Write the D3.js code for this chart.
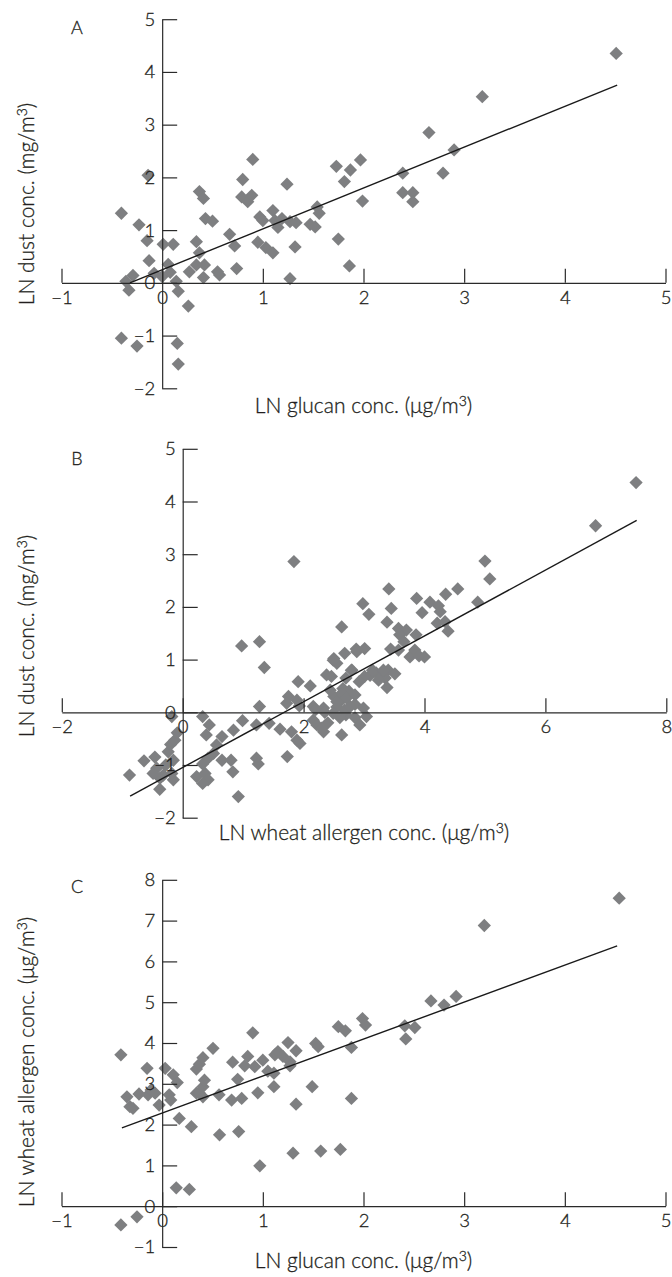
<!DOCTYPE html>
<html>
<head>
<meta charset="utf-8">
<script src="https://cdn.jsdelivr.net/npm/d3@7"></script>
<style>
  body { margin: 0; background: #fff; }
  text { font-family: Lato, "Open Sans", sans-serif; font-weight: 300; fill: #231f20; stroke: #231f20; stroke-width: 0.3; }
</style>
</head>
<body>
<script>
// panel A: LN glucan (x) vs LN dust (y)
var pointsA = [
  [-0.405,1.32],[-0.23,1.10],[-0.15,0.80],[-0.13,0.42],[-0.14,2.04],
  [-0.29,0.14],[-0.36,0.03],[-0.33,-0.14],[-0.08,0.18],
  [0.01,0.73],[0.11,0.73],[0.06,0.35],[0.08,0.20],[0.0,0.12],[0.14,0.03],[0.16,-0.16],[0.26,-0.44],
  [-0.405,-1.05],[-0.25,-1.20],[0.15,-1.15],[0.16,-1.54],
  [0.37,1.73],[0.41,1.60],[0.43,1.22],[0.50,1.17],[0.34,0.78],[0.37,0.57],[0.27,0.21],[0.34,0.34],
  [0.42,0.34],[0.41,0.10],[0.55,0.21],[0.57,0.15],
  [0.67,0.92],[0.72,0.70],[0.74,0.27],[0.80,1.96],[0.79,1.63],[0.85,1.54],[0.89,1.66],[0.90,2.34],
  [0.95,0.77],[0.97,1.25],[1.0,1.18],[1.03,0.67],[1.10,0.57],[1.10,1.37],[1.12,1.18],[1.15,1.05],
  [1.19,1.22],[1.24,1.87],[1.27,1.16],[1.33,1.14],[1.32,0.68],[1.27,0.08],
  [1.47,1.11],[1.52,1.06],[1.54,1.44],[1.56,1.32],[1.75,0.83],[1.73,2.21],[1.81,1.92],[1.87,2.14],
  [1.86,0.32],[1.97,2.33],[1.99,1.55],
  [2.39,2.08],[2.39,1.71],[2.49,1.71],[2.49,1.54],[2.65,2.85],[2.79,2.08],[2.90,2.52],[3.18,3.53],[4.51,4.35]
];
var fitA = [[-0.32, 0.0], [4.52, 3.75]];

// panel B: LN wheat allergen (x) vs LN dust (y)
var pointsB = [
  [-0.88,-1.19],[-0.64,-0.92],[-0.46,-0.85],[-0.43,-1.06],[-0.375,-1.25],[-0.38,-1.46],[-0.28,-1.0],
  [-0.24,-0.75],[-0.20,-0.61],[-0.155,-0.91],[-0.155,-1.28],[-0.13,-0.53],[-0.09,-0.39],[-0.18,-0.08],
  [-0.32,-1.19],[-0.49,-1.16],[-0.18,-1.16],
  [0.33,-0.08],[0.44,-0.24],[0.39,-0.43],[0.65,-0.46],[0.56,-0.62],[0.51,-0.78],[0.42,-0.87],[0.33,-0.98],
  [0.23,-1.22],[0.37,-1.16],[0.42,-1.28],[0.33,-1.35],[0.65,-0.91],[0.80,-0.91],[0.83,-1.13],[0.92,-1.60],
  [0.84,-0.34],[0.99,-0.16],[1.22,-0.87],[1.25,-0.98],[1.27,0.11],[1.22,-0.24],[1.43,-0.21],[1.61,-0.32],
  [1.73,-0.84],[1.80,-0.37],[1.89,-0.53],[1.94,-0.59],
  [0.975,1.26],[1.27,1.34],[1.35,0.85],[1.84,2.86],
  [2.63,1.62],[2.50,1.02],[2.55,0.93],[2.68,1.12],[2.87,1.20],[2.38,0.71],[2.46,0.68],[2.80,0.80],
  [1.91,0.58],[2.11,0.50],[1.75,0.30],[1.72,0.17],[1.89,0.23],[1.93,0.12],[2.16,0.11],[2.33,0.08],
  [2.16,-0.15],[2.33,-0.37],[2.63,-0.43],[2.22,-0.24],
  [2.2,0.05],[2.35,0.0],[2.5,0.3],[2.6,0.2],[2.7,-0.05],[2.4,-0.2],[2.55,0.1],[2.65,0.45],[2.7,0.65],
  [2.85,0.15],[2.3,-0.3],[2.85,-0.1],[2.6,-0.1],[2.75,0.4],
  [2.44,0.42],[2.63,0.36],[2.71,0.27],[2.85,0.33],[2.55,0.20],[2.68,0.04],[2.77,0.11],[2.49,-0.02],
  [2.99,0.08],[3.04,-0.08],[2.93,-0.24],
  [3.1,0.7],[3.2,0.75],[3.3,0.7],[3.4,0.8],[3.35,0.65],
  [2.49,0.99],[2.79,0.80],[3.14,0.80],[3.32,0.80],[3.51,0.73],[3.24,0.61],[3.01,0.68],[2.92,0.58],[3.38,0.47],
  [3.01,1.21],[2.88,1.15],[3.44,1.20],[3.57,1.18],[3.76,1.05],[3.84,1.18],[4.0,1.05],[3.91,1.07],
  [2.98,2.06],[3.08,1.86],[3.38,1.71],[3.57,1.59],[3.70,1.56],[3.59,1.47],[3.66,1.34],[3.86,1.47],
  [3.41,2.34],[3.45,1.97],[3.87,2.16],[3.96,1.89],[4.09,2.09],[4.23,2.02],[4.26,1.91],[4.21,1.69],
  [4.34,1.72],[4.39,1.54],[4.35,2.24],[4.55,2.34],[4.88,2.09],[5.00,2.87],[5.08,2.53],[6.83,3.54],[7.5,4.36]
];
var fitB = [[-0.87, -1.59], [7.51, 3.64]];

// panel C: LN glucan (x) vs LN wheat allergen (y)
var pointsC = [
  [-0.41,3.71],[-0.35,2.68],[-0.32,2.44],[-0.29,2.40],[-0.23,2.75],[-0.15,3.38],[-0.14,2.73],[-0.11,2.85],
  [-0.07,2.77],[-0.03,2.48],[0.03,3.38],[0.07,2.73],[0.085,2.60],[0.11,3.22],[0.15,3.03],[0.17,2.15],
  [0.14,0.45],[0.27,0.41],[0.29,1.95],[0.34,2.77],[0.34,3.36],[0.37,3.48],[0.405,3.64],[0.37,2.77],
  [0.405,2.93],[0.42,3.09],[0.405,2.68],[0.505,3.87],[0.57,1.75],[0.565,2.73],[0.70,3.53],[0.69,2.60],
  [0.75,3.11],[0.76,1.83],[0.79,2.64],[0.82,3.44],[0.85,3.67],[0.90,4.25],[0.92,3.42],[0.95,2.78],
  [0.97,0.99],[1.0,3.58],[1.05,3.31],[1.11,2.93],[1.11,3.26],[1.12,3.71],[1.15,3.79],[1.20,3.67],
  [1.25,4.01],[1.27,3.54],[1.27,3.44],[1.33,3.81],[1.33,2.50],[1.30,1.30],[1.49,2.93],[1.525,3.99],
  [1.55,3.91],[1.575,1.35],[1.77,1.39],[1.75,4.40],[1.82,4.30],[1.88,3.89],[1.88,2.64],[1.99,4.60],
  [2.02,4.44],[2.41,4.42],[2.51,4.38],[2.42,4.10],[2.67,5.03],[2.80,4.93],[2.92,5.14],[3.20,6.88],
  [4.54,7.55],[-0.41,-0.46],[-0.25,-0.26]
];
var fitC = [[-0.40, 1.92], [4.52, 6.38]];

var ticksGlucan = [-1, 0, 1, 2, 3, 4, 5];
var ticksWheat = [-2, 0, 2, 4, 6, 8];
var ticksDust = [-2, -1, 0, 1, 2, 3, 4, 5];
var ticksWheatY = [-1, 0, 1, 2, 3, 4, 5, 6, 7, 8];

var svg = d3.select('body').append('svg').attr('width', 672).attr('height', 1277);
var fmt = d3.format('d');

// title with a superscript 3 inside the unit
var addTitle = function(sel, pre, post){
  sel.append('tspan').text(pre);
  sel.append('tspan').attr('font-size', 14).attr('dy', -7).text('3');
  sel.append('tspan').attr('dy', 7).text(post);
};

var drawPanel = function(p){
  var x = d3.scaleLinear().domain([p.xTicks[0], p.xTicks[p.xTicks.length - 1]]).range(p.xRange);
  var y = d3.scaleLinear().domain([p.yTicks[0], p.yTicks[p.yTicks.length - 1]]).range(p.yRange);
  var g = svg.append('g');

  var diamond = d3.symbol(d3.symbolSquare, 88);
  g.append('g').selectAll('path')
    .data(p.points)
    .enter()
    .append('path')
    .attr('d', diamond)
    .attr('transform', function(d){ return 'translate(' + x(d[0]) + ',' + y(d[1]) + ') rotate(45)'; })
    .attr('fill', '#7e7f81');

  var xAxis = g.append('g')
    .attr('transform', 'translate(0,' + y(0) + ')')
    .call(d3.axisBottom(x).tickValues(p.xTicks).tickSize(-14).tickSizeOuter(0).tickPadding(8).tickFormat(fmt));
  var yAxis = g.append('g')
    .attr('transform', 'translate(' + x(0) + ',0)')
    .call(d3.axisLeft(y).tickValues(p.yTicks).tickSize(-15).tickSizeOuter(0).tickPadding(7).tickFormat(fmt));
  [xAxis, yAxis].forEach(function(a){
    a.selectAll('path, line').attr('stroke', '#2a2a2a').attr('stroke-width', 1.2);
    a.selectAll('text').attr('font-size', 18.5).attr('fill', '#231f20')
      .style('font-family', 'Lato, sans-serif').style('font-weight', 300)
      .attr('stroke', '#231f20').attr('stroke-width', 0.3);
  });

  g.append('line')
    .attr('x1', x(p.fit[0][0])).attr('y1', y(p.fit[0][1]))
    .attr('x2', x(p.fit[1][0])).attr('y2', y(p.fit[1][1]))
    .attr('stroke', '#1a1a1a').attr('stroke-width', 1.4);

  g.append('text').attr('x', 77).attr('y', p.labelY).attr('text-anchor', 'middle')
    .attr('font-size', 18).text(p.label);

  var xt = g.append('text').attr('x', (p.xRange[0] + p.xRange[1]) / 2).attr('y', p.xTitleY)
    .attr('text-anchor', 'middle').attr('font-size', 21);
  addTitle(xt, p.xTitle[0], p.xTitle[1]);

  var yt = g.append('text')
    .attr('transform', 'translate(34,' + p.yTitleMid + ') rotate(-90)')
    .attr('text-anchor', 'middle').attr('font-size', 21);
  addTitle(yt, p.yTitle[0], p.yTitle[1]);
};

drawPanel({
  points: pointsA, fit: fitA, label: 'A', labelY: 34,
  xTicks: ticksGlucan, yTicks: ticksDust, xRange: [61.5, 665.5], yRange: [388.3, 19.2],
  xTitle: ['LN glucan conc. (\u03bcg/m', ')'], xTitleY: 413,
  yTitle: ['LN dust conc. (mg/m', ')'], yTitleMid: 204
});
drawPanel({
  points: pointsB, fit: fitB, label: 'B', labelY: 465,
  xTicks: ticksWheat, yTicks: ticksDust, xRange: [61.8, 666.3], yRange: [817.7, 448.8],
  xTitle: ['LN wheat allergen conc. (\u03bcg/m', ')'], xTitleY: 840,
  yTitle: ['LN dust conc. (mg/m', ')'], yTitleMid: 636
});
drawPanel({
  points: pointsC, fit: fitC, label: 'C', labelY: 893,
  xTicks: ticksGlucan, yTicks: ticksWheatY, xRange: [61.5, 665.5], yRange: [1247, 879.8],
  xTitle: ['LN glucan conc. (\u03bcg/m', ')'], xTitleY: 1268,
  yTitle: ['LN wheat allergen conc. (\u03bcg/m', ')'], yTitleMid: 1062
});
</script>
</body>
</html>
